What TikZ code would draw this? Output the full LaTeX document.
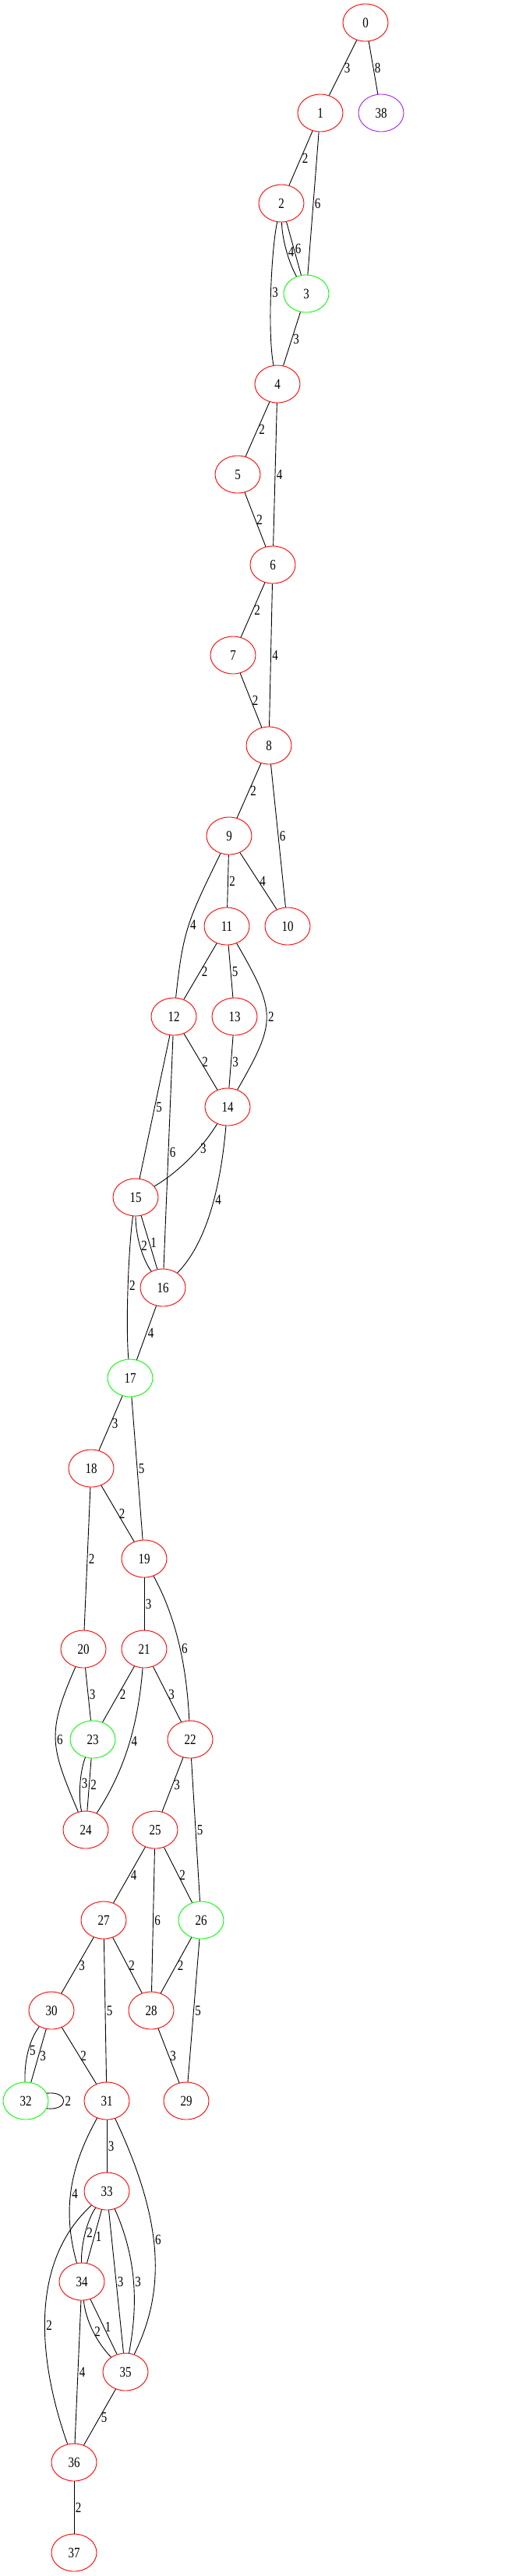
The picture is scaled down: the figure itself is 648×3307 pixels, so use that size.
\documentclass[tikz,border=0pt]{standalone}
\usepackage{fontspec}
\setmainfont{Liberation Serif}
\usepackage{graphicx}
\usetikzlibrary{shapes.geometric}
\definecolor{gvred}{RGB}{255,0,0}
\definecolor{gvgreen}{RGB}{0,255,0}
\definecolor{gvpurple}{RGB}{160,32,240}
\newcommand{\gvt}[1]{\scalebox{1}[1.24]{#1}}
\begin{document}
\begin{tikzpicture}[x=1pt,y=-1pt,
  vtx/.style={ellipse, draw=gvred, line width=0.9pt, minimum width=58pt, minimum height=48pt, inner sep=0pt, font=\fontsize{15}{18}\selectfont},
  vg/.style={vtx, draw=gvgreen},
  vp/.style={vtx, draw=gvpurple},
  lab/.style={font=\fontsize{15}{18}\selectfont, inner sep=1.5pt, anchor=west},
  gvedge/.style={line width=0.9pt, black}]
\useasboundingbox[fill=white] (0,0) rectangle (648,3307);
% nodes
\node[vtx] (n0) at (469,29) {\gvt{0}};
\node[vtx] (n1) at (411,145) {\gvt{1}};
\node[vp] (n38) at (489,145) {\gvt{38}};
\node[vtx] (n2) at (361,261) {\gvt{2}};
\node[vg] (n3) at (393,377) {\gvt{3}};
\node[vtx] (n4) at (356,493) {\gvt{4}};
\node[vtx] (n5) at (305,609) {\gvt{5}};
\node[vtx] (n6) at (350,725) {\gvt{6}};
\node[vtx] (n7) at (299,841) {\gvt{7}};
\node[vtx] (n8) at (345,957) {\gvt{8}};
\node[vtx] (n9) at (294,1073) {\gvt{9}};
\node[vtx] (n10) at (369,1189) {\gvt{10}};
\node[vtx] (n11) at (291,1189) {\gvt{11}};
\node[vtx] (n12) at (223,1305) {\gvt{12}};
\node[vtx] (n13) at (301,1305) {\gvt{13}};
\node[vtx] (n14) at (292,1421) {\gvt{14}};
\node[vtx] (n15) at (174,1537) {\gvt{15}};
\node[vtx] (n16) at (209,1653) {\gvt{16}};
\node[vg] (n17) at (167,1769) {\gvt{17}};
\node[vtx] (n18) at (117,1885) {\gvt{18}};
\node[vtx] (n19) at (185,2001) {\gvt{19}};
\node[vtx] (n20) at (107,2117) {\gvt{20}};
\node[vtx] (n21) at (185,2117) {\gvt{21}};
\node[vtx] (n22) at (244,2233) {\gvt{22}};
\node[vg] (n23) at (119,2233) {\gvt{23}};
\node[vtx] (n24) at (110,2349) {\gvt{24}};
\node[vtx] (n25) at (199,2349) {\gvt{25}};
\node[vg] (n26) at (258,2465) {\gvt{26}};
\node[vtx] (n27) at (133,2465) {\gvt{27}};
\node[vtx] (n28) at (194,2581) {\gvt{28}};
\node[vtx] (n29) at (239,2697) {\gvt{29}};
\node[vtx] (n30) at (66,2581) {\gvt{30}};
\node[vtx] (n31) at (137,2697) {\gvt{31}};
\node[vg] (n32) at (33,2697) {\gvt{32}};
\node[vtx] (n33) at (137,2813) {\gvt{33}};
\node[vtx] (n34) at (105,2929) {\gvt{34}};
\node[vtx] (n35) at (161,3045) {\gvt{35}};
\node[vtx] (n36) at (95,3161) {\gvt{36}};
\node[vtx] (n37) at (95,3277) {\gvt{37}};
% straight edges
\draw[gvedge] (n0) -- (n1) node[lab,midway] {\gvt{3}};
\draw[gvedge] (n0) -- (n38) node[lab,midway] {\gvt{8}};
\draw[gvedge] (n1) -- (n2) node[lab,midway] {\gvt{2}};
\draw[gvedge] (n1) -- (n3) node[lab,midway] {\gvt{6}};
\draw[gvedge] (n2) -- (n3) node[lab,midway] {\gvt{6}};
\draw[gvedge] (n3) -- (n4) node[lab,midway] {\gvt{3}};
\draw[gvedge] (n4) -- (n5) node[lab,midway] {\gvt{2}};
\draw[gvedge] (n4) -- (n6) node[lab,midway] {\gvt{4}};
\draw[gvedge] (n5) -- (n6) node[lab,midway] {\gvt{2}};
\draw[gvedge] (n6) -- (n7) node[lab,midway] {\gvt{2}};
\draw[gvedge] (n6) -- (n8) node[lab,midway] {\gvt{4}};
\draw[gvedge] (n7) -- (n8) node[lab,midway] {\gvt{2}};
\draw[gvedge] (n8) -- (n9) node[lab,midway] {\gvt{2}};
\draw[gvedge] (n8) -- (n10) node[lab,midway] {\gvt{6}};
\draw[gvedge] (n9) -- (n10) node[lab,midway] {\gvt{4}};
\draw[gvedge] (n9) -- (n11) node[lab,midway] {\gvt{2}};
\draw[gvedge] (n11) -- (n12) node[lab,midway] {\gvt{2}};
\draw[gvedge] (n11) -- (n13) node[lab,midway] {\gvt{5}};
\draw[gvedge] (n12) -- (n14) node[lab,midway] {\gvt{2}};
\draw[gvedge] (n13) -- (n14) node[lab,midway] {\gvt{3}};
\draw[gvedge] (n12) -- (n15) node[lab,midway] {\gvt{5}};
\draw[gvedge] (n12) -- (n16) node[lab,midway] {\gvt{6}};
\draw[gvedge] (n15) -- (n16) node[lab,midway] {\gvt{1}};
\draw[gvedge] (n16) -- (n17) node[lab,midway] {\gvt{4}};
\draw[gvedge] (n17) -- (n18) node[lab,midway] {\gvt{3}};
\draw[gvedge] (n17) -- (n19) node[lab,midway] {\gvt{5}};
\draw[gvedge] (n18) -- (n19) node[lab,midway] {\gvt{2}};
\draw[gvedge] (n18) -- (n20) node[lab,midway] {\gvt{2}};
\draw[gvedge] (n19) -- (n21) node[lab,midway] {\gvt{3}};
\draw[gvedge] (n20) -- (n23) node[lab,midway] {\gvt{3}};
\draw[gvedge] (n21) -- (n23) node[lab,midway] {\gvt{2}};
\draw[gvedge] (n21) -- (n22) node[lab,midway] {\gvt{3}};
\draw[gvedge] (n23) -- (n24) node[lab,midway] {\gvt{2}};
\draw[gvedge] (n22) -- (n25) node[lab,midway] {\gvt{3}};
\draw[gvedge] (n22) -- (n26) node[lab,midway] {\gvt{5}};
\draw[gvedge] (n25) -- (n27) node[lab,midway] {\gvt{4}};
\draw[gvedge] (n25) -- (n28) node[lab,midway] {\gvt{6}};
\draw[gvedge] (n25) -- (n26) node[lab,midway] {\gvt{2}};
\draw[gvedge] (n27) -- (n30) node[lab,midway] {\gvt{3}};
\draw[gvedge] (n27) -- (n31) node[lab,midway] {\gvt{5}};
\draw[gvedge] (n27) -- (n28) node[lab,midway] {\gvt{2}};
\draw[gvedge] (n26) -- (n28) node[lab,midway] {\gvt{2}};
\draw[gvedge] (n26) -- (n29) node[lab,midway] {\gvt{5}};
\draw[gvedge] (n28) -- (n29) node[lab,midway] {\gvt{3}};
\draw[gvedge] (n30) -- (n32) node[lab,midway] {\gvt{3}};
\draw[gvedge] (n30) -- (n31) node[lab,midway] {\gvt{2}};
\draw[gvedge] (n31) -- (n33) node[lab,midway] {\gvt{3}};
\draw[gvedge] (n33) -- (n34) node[lab,midway] {\gvt{1}};
\draw[gvedge] (n33) -- (n35) node[lab,midway] {\gvt{3}};
\draw[gvedge] (n34) -- (n35) node[lab,midway] {\gvt{1}};
\draw[gvedge] (n34) -- (n36) node[lab,midway] {\gvt{4}};
\draw[gvedge] (n35) -- (n36) node[lab,midway] {\gvt{5}};
\draw[gvedge] (n36) -- (n37) node[lab,midway] {\gvt{2}};
% curved edges
\draw[gvedge] (n2) .. controls (362,310) and (372,340) .. (n3) node[lab,pos=0.5] {\gvt{4}};
\draw[gvedge] (n2) .. controls (348,320) and (343,430) .. (n4) node[lab,pos=0.5] {\gvt{3}};
\draw[gvedge] (n9) .. controls (241,1182) and (235,1193) .. (n12) node[lab,pos=0.5] {\gvt{4}};
\draw[gvedge] (n11) .. controls (355,1300) and (355,1311) .. (n14) node[lab,pos=0.5] {\gvt{2}};
\draw[gvedge] (n14) .. controls (262,1470) and (232,1503) .. (n15) node[lab,pos=0.37] {\gvt{3}};
\draw[gvedge] (n14) .. controls (284,1515) and (268,1593) .. (n16) node[lab,pos=0.45] {\gvt{4}};
\draw[gvedge] (n15) .. controls (174,1585) and (182,1615) .. (n16) node[lab,pos=0.5] {\gvt{2}};
\draw[gvedge] (n15) .. controls (165,1600) and (161,1700) .. (n17) node[lab,pos=0.5] {\gvt{2}};
\draw[gvedge] (n19) .. controls (230,2084) and (240,2150) .. (n22) node[lab,pos=0.5] {\gvt{6}};
\draw[gvedge] (n20) .. controls (59,2226) and (65,2242) .. (n24) node[lab,pos=0.5] {\gvt{6}};
\draw[gvedge] (n21) .. controls (178,2205) and (164,2267) .. (n24) node[lab,pos=0.5] {\gvt{4}};
\draw[gvedge] (n23) .. controls (103,2272) and (100,2305) .. (n24) node[lab,pos=0.5] {\gvt{3}};
\draw[gvedge] (n30) .. controls (38,2618) and (31,2645) .. (n32) node[lab,pos=0.5] {\gvt{5}};
\draw[gvedge] (n32.20) .. controls (89,2684) and (89,2710) .. (n32.-20) node[lab,pos=0.5] {\gvt{2}};
\draw[gvedge] (n31) .. controls (85,2790) and (82,2845) .. (n34) node[lab,pos=0.5] {\gvt{4}};
\draw[gvedge] (n31) .. controls (210,2852) and (213,2940) .. (n35) node[lab,pos=0.45] {\gvt{6}};
\draw[gvedge] (n33) .. controls (112,2850) and (104,2880) .. (n34) node[lab,pos=0.5] {\gvt{2}};
\draw[gvedge] (n33) .. controls (176,2900) and (177,2960) .. (n35) node[lab,pos=0.5] {\gvt{3}};
\draw[gvedge] (n33) .. controls (27,2914) and (58,3057) .. (n36) node[lab,pos=0.5] {\gvt{2}};
\draw[gvedge] (n34) .. controls (110,2980) and (125,3008) .. (n35) node[lab,pos=0.5] {\gvt{2}};
\end{tikzpicture}
\end{document}
